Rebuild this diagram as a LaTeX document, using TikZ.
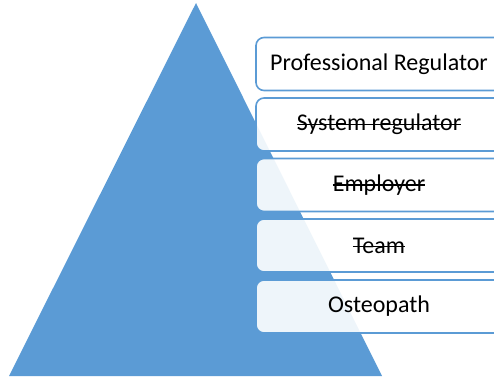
\documentclass[tikz,border=0pt]{standalone}
\usepackage{fontspec}
\setmainfont{Carlito}
\definecolor{pyrblue}{HTML}{5B9BD5}
% struck-through text
\newcommand{\strikeout}[1]{\setbox0\hbox{#1}\rlap{\raisebox{0.24em}{\rule{\wd0}{1.3pt}}}\box0}
\tikzset{
  layer/.style={draw=pyrblue, line width=1.6pt, rounded corners=8pt,
    fill=white, fill opacity=0.9, text opacity=1,
    minimum width=246pt, minimum height=53pt, inner sep=0pt,
    font=\fontsize{24}{28}\selectfont}
}
\begin{document}
\begin{tikzpicture}[x=1pt, y=-1pt]
      \useasboundingbox (0,0) rectangle (494,376);
      \fill[pyrblue] (196,3) -- (382,376) -- (9,376) -- cycle;
      \node[layer] (prof) at (379,64) {Professional Regulator};
      \node[layer] (sys) at (379,124.5) {\strikeout{System regulator}};
      \node[layer] (emp) at (379,185) {\strikeout{Employer}};
      \node[layer] (team) at (379,245.5) {\strikeout{Team}};
      \node[layer] (osteo) at (379,306.5) {Osteopath};
    \end{tikzpicture}
\end{document}
